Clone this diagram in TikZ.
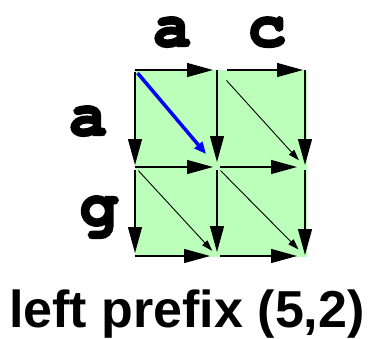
\documentclass[tikz,border=0pt]{standalone}
\usepackage{fontspec}
\setmainfont{Liberation Sans}
\usetikzlibrary{arrows.meta}
\definecolor{cellgreen}{RGB}{187,255,187}
\newcommand\heavytext[1]{\special{pdf:literal direct 2 Tr 2.2 w}#1\special{pdf:literal direct 0 Tr 1 w}}
\tikzset{
  grid arrow/.style={line width=1.3pt,-{Triangle[length=26pt,width=14pt]}},
  diag arrow/.style={line width=0.9pt,-{Triangle[length=11pt,width=7pt]}},
  blue arrow/.style={line width=3.5pt,blue,-{Triangle[length=12pt,width=10pt]}},
  seqlabel/.style={font=\usefont{OT1}{pcr}{b}{n}\fontsize{64}{64}\selectfont,anchor=base,inner sep=0pt},
}
\begin{document}
\begin{tikzpicture}[x=1pt,y=-1pt]
\useasboundingbox (0,0) rectangle (372,338);
\fill[cellgreen] (135,70) rectangle (307,257);
\coordinate (p00) at (135,70);
\coordinate (p01) at (217,70);
\coordinate (p02) at (305,70);
\coordinate (p10) at (135,167);
\coordinate (p11) at (217,167);
\coordinate (p12) at (305,167);
\coordinate (p20) at (135,256);
\coordinate (p21) at (217,256);
\coordinate (p22) at (305,256);
% horizontal
\draw[grid arrow,shorten >=4pt] (p00) -- (p01);
\draw[grid arrow,shorten <=10pt,shorten >=2pt] (p01) -- (p02);
\draw[grid arrow,shorten >=4pt] (p10) -- (p11);
\draw[grid arrow,shorten <=3pt,shorten >=8pt] (p11) -- (p12);
\draw[grid arrow,shorten >=7pt] (p20) -- (p21);
\draw[grid arrow,shorten <=3pt,shorten >=8pt] (p21) -- (p22);
% vertical
\draw[grid arrow,shorten <=2pt,shorten >=2pt] (p00) -- (p10);
\draw[grid arrow,shorten <=3pt,shorten >=3pt] (p10) -- (p20);
\draw[grid arrow,shorten >=5pt] (p01) -- (p11);
\draw[grid arrow,shorten <=3pt,shorten >=4pt] (p11) -- (p21);
\draw[grid arrow,shorten >=2pt] (p02) -- (p12);
\draw[grid arrow,shorten <=3pt,shorten >=1pt] (p12) -- (p22);
% diagonal
\draw[blue arrow,shorten <=4pt,shorten >=17pt] (p00) -- (p11);
\draw[diag arrow,shorten <=14pt,shorten >=9pt] (p01) -- (p12);
\draw[diag arrow,shorten <=5pt,shorten >=7pt] (p10) -- (p21);
\draw[diag arrow,shorten <=5pt,shorten >=9pt] (p11) -- (p22);
% labels
\node[seqlabel] (la) at (172,46) {\heavytext{a}};
\node[seqlabel] (lc) at (267,46) {\heavytext{c}};
\node[seqlabel] (ra) at (88,135) {\heavytext{a}};
\node[seqlabel] (rg) at (99,225) {\heavytext{g}};
\node[font=\bfseries\fontsize{52}{52}\selectfont,anchor=base,inner sep=0pt] (title) at (187,327) {left prefix (5,2)};
\end{tikzpicture}
\end{document}
